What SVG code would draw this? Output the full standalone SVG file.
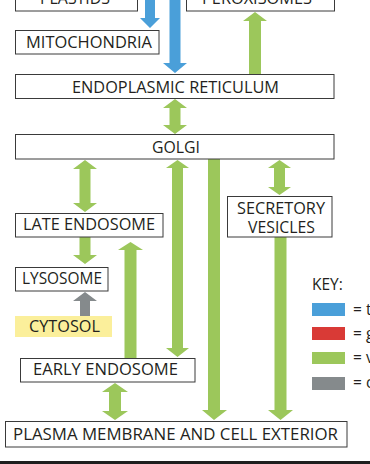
<svg xmlns="http://www.w3.org/2000/svg" width="370" height="464" viewBox="0 0 370 464">
<style>
.box{fill:#fff;stroke:#3a3a3a;stroke-width:1}
.t{font-family:"Open Sans","Noto Sans","Liberation Sans",sans-serif;font-size:15.5px;fill:#231f20;text-anchor:middle}
.k{font-family:"Open Sans","Noto Sans","Liberation Sans",sans-serif;font-size:15.5px;fill:#231f20}
.blue{fill:#4a9fd9}
.green{fill:#9cc75b}
.gray{fill:#858a8c}
.red{fill:#d93a36}
</style>
<rect width="370" height="464" fill="#fff"/>
<g id="connectors">
<polygon class="blue" points="145,0 155,0 155,18 160,18 150,28 140,18 145,18"/>
<polygon class="blue" points="169.5,0 180.5,0 180.5,63 187,63 175,73 163,63 169.5,63"/>
<polygon class="green" points="255,12 267,21 261,21 261,74 249,74 249,21 243,21"/>
<polygon class="green" points="175,99 187,108 180.5,108 180.5,125 187,125 175,134 163,125 169.5,125 169.5,108 163,108"/>
<polygon class="green" points="85,160 97,169 90.5,169 90.5,203 97,203 85,212 73,203 79.5,203 79.5,169 73,169"/>
<polygon class="green" points="177.5,160 189,168 183,168 183,348 189,348 177.5,357 166,348 172,348 172,168 166,168"/>
<polygon class="green" points="208,159 220,159 220,410 227,410 214,420 202,410 208,410"/>
<polygon class="green" points="279.5,160 291,168 285,168 285,187 291,187 279.5,195 268,187 274,187 274,168 268,168"/>
<polygon class="green" points="274.5,237 286.5,237 286.5,410 293,410 280.5,420 268,410 274.5,410"/>
<polygon class="green" points="79.5,237 90.5,237 90.5,255 97,255 85,264 73,255 79.5,255"/>
<polygon class="gray" points="85,292 97,301 90,301 90,316 80,316 80,301 73,301"/>
<polygon class="green" points="130.5,242 143,250 136.5,250 136.5,358 124.5,358 124.5,250 118,250"/>
<polygon class="green" points="115,383 128,392 121,392 121,411 128,411 115,420 102,411 109,411 109,392 102,392"/>
</g>
<g id="plastids"><rect class="box" x="15.5" y="-14.5" width="122" height="25.5"/><text class="t" x="75" y="4" textLength="70" lengthAdjust="spacingAndGlyphs">PLASTIDS</text></g>
<g id="peroxisomes"><rect class="box" x="186.5" y="-14.5" width="148" height="25.5"/><text class="t" x="257" y="4" textLength="110" lengthAdjust="spacingAndGlyphs">PEROXISOMES</text></g>
<g id="mitochondria"><rect class="box" x="15.5" y="30.5" width="143.5" height="23.5"/><text class="t" x="89" y="48" textLength="126" lengthAdjust="spacingAndGlyphs">MITOCHONDRIA</text></g>
<g id="er"><rect class="box" x="15.5" y="74.5" width="318.5" height="24"/><text class="t" x="175.5" y="92.5" textLength="207" lengthAdjust="spacingAndGlyphs">ENDOPLASMIC RETICULUM</text></g>
<g id="golgi"><rect class="box" x="15.5" y="134.5" width="318.5" height="24.5"/><text class="t" x="176" y="152.5" textLength="48" lengthAdjust="spacingAndGlyphs">GOLGI</text></g>
<g id="late-endosome"><rect class="box" x="15.5" y="213.5" width="147.5" height="23.5"/><text class="t" x="89" y="230" textLength="132" lengthAdjust="spacingAndGlyphs">LATE ENDOSOME</text></g>
<g id="secretory-vesicles"><rect class="box" x="227.5" y="196.5" width="104.5" height="40.5"/><text class="t" x="281" y="214" textLength="88" lengthAdjust="spacingAndGlyphs">SECRETORY</text><text class="t" x="281.5" y="232.5" textLength="67" lengthAdjust="spacingAndGlyphs">VESICLES</text></g>
<g id="lysosome"><rect class="box" x="15.5" y="267.5" width="92.5" height="23.5"/><text class="t" x="62" y="284" textLength="80" lengthAdjust="spacingAndGlyphs">LYSOSOME</text></g>
<g id="cytosol"><rect x="15" y="316" width="97" height="21" fill="#fbef9b"/><text class="t" x="64.5" y="332" textLength="71" lengthAdjust="spacingAndGlyphs">CYTOSOL</text></g>
<g id="early-endosome"><rect class="box" x="20.5" y="358.5" width="174.5" height="23.5"/><text class="t" x="105.5" y="375" textLength="145" lengthAdjust="spacingAndGlyphs">EARLY ENDOSOME</text></g>
<g id="plasma-membrane"><rect class="box" x="5.5" y="421.5" width="341.5" height="25.5"/><text class="t" x="175.5" y="440" textLength="325" lengthAdjust="spacingAndGlyphs">PLASMA MEMBRANE AND CELL EXTERIOR</text></g>
<g id="key">
<text class="k" x="312" y="290">KEY:</text>
<rect class="blue" x="312" y="303" width="33" height="13"/>
<rect class="red" x="312" y="327" width="33" height="13"/>
<rect class="green" x="312" y="352" width="33" height="12"/>
<rect class="gray" x="312" y="377" width="33" height="13"/>
<text class="k" x="353" y="315">= t</text>
<text class="k" x="353" y="339">= g</text>
<text class="k" x="353" y="363">= v</text>
<text class="k" x="353" y="388">= c</text>
</g>
<rect x="0" y="461" width="370" height="3" fill="#1e1e1e"/>
</svg>
